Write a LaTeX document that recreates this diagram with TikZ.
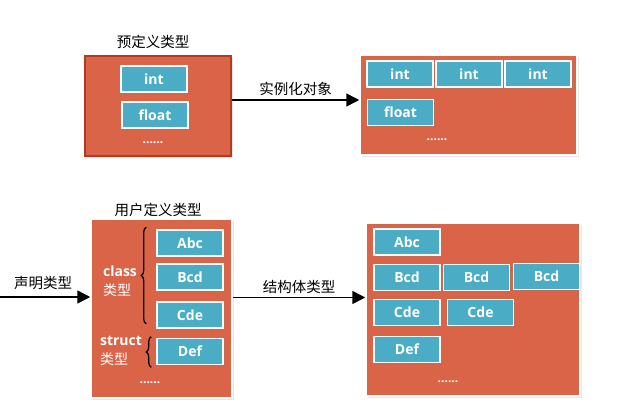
\documentclass[tikz,border=0pt]{standalone}
\usepackage{fontspec}
\setmainfont{Open Sans}
\newfontfamily\cjk{Noto Sans CJK SC}
\usepackage{tikz}
\usetikzlibrary{positioning, arrows.meta, decorations.pathreplacing, shadows}
\definecolor{TyRed}{RGB}{217,100,71}
\definecolor{TyDark}{RGB}{181,57,31}
\definecolor{TyBlue}{RGB}{75,172,198}

\begin{document}
\begin{tikzpicture}[x=1pt, y=-1pt,
          panel/.style={rectangle, fill=TyRed, draw=white, line width=1.5pt,
                        drop shadow={shadow xshift=1.5pt, shadow yshift=-1.5pt, opacity=0.2}},
          cell/.style={rectangle, fill=TyBlue, draw=white, line width=1.6pt,
                       minimum width=66pt, minimum height=26pt, inner sep=0pt,
                       text=white, font=\fontsize{14}{16}\selectfont\bfseries,
                       drop shadow={shadow xshift=1.5pt, shadow yshift=-1.5pt, opacity=0.2}},
          dots/.style={text=white, font=\fontsize{12}{14}\selectfont\bfseries},
          lbl/.style={font=\fontsize{14.5}{16}\selectfont\cjk},
          side/.style={text=white, align=left, inner sep=0pt,
                       font=\fontsize{14}{19}\selectfont\bfseries},
          arr/.style={-{Triangle[length=13pt, width=13pt]}, line width=1.5pt},
          brc/.style={decorate, decoration={brace, amplitude=5pt}, line width=1.2pt}
        ]
        \useasboundingbox (0,0) rectangle (620,404);

        % predefined types
        \node[lbl] (tPre) at (153,42) {预定义类型};
        \node[panel, draw=TyDark, minimum width=146pt, minimum height=100pt] (preA) at (158,106) {};
        \node[cell] (pInt) at (154,79) {int};
        \node[cell] (pFloat) at (155,115) {float};
        \node[dots] (pDots) at (153,143) {......};

        % instances
        \node[panel, minimum width=217pt, minimum height=100pt] (objA) at (468.5,105) {};
        \foreach \n/\x in {oInt1/400, oInt2/469, oInt3/538} {
          \node[cell] (\n) at (\x,74) {int};
        }
        \node[cell] (oFloat) at (400.5,112.5) {float};
        \node[dots] (oDots) at (437,140) {......};

        \draw[arr] ([yshift=6pt]preA.east) -- ([yshift=6pt]preA.east -| objA.west)
              node[lbl, midway, above=0pt] (tInst) {实例化对象};

        % user defined types
        \node[lbl] (tUdt) at (158,210) {用户定义类型};
        \node[panel, minimum width=141pt, minimum height=179pt] (udt) at (161.5,308.5) {};
        \foreach \n/\y/\t in {uAbc/243/Abc, uBcd/277/Bcd, uCde/315/Cde, uDef/351.5/Def} {
          \node[cell] (\n) at (190,\y) {\t};
        }
        \node[side] (cls) at (120,281) {class\\{\cjk\mdseries 类型}};
        \node[side] (str) at (121,351) {struct\\{\cjk\mdseries 类型}};
        \draw[brc] ([xshift=-10pt, yshift=5pt]uCde.south west) -- ([xshift=-10pt, yshift=2pt]uAbc.north west);
        \draw[brc] ([xshift=-5pt, yshift=-2pt]uDef.south west) -- ([xshift=-5pt, yshift=1pt]uDef.north west);
        \node[dots] (uDots) at (150,383) {......};

        \coordinate (src) at (0,297);
        \draw[arr] (src) -- (src -| udt.west);
        \node[lbl] (tDecl) at (43,283) {声明类型};

        % struct objects
        \node[panel, minimum width=214pt, minimum height=173pt] (objB) at (473,309.5) {};
        \node[cell] (sAbc) at (407,242) {Abc};
        \foreach \n/\x in {sBcd1/407, sBcd2/476.5} {
          \node[cell] (\n) at (\x,277.5) {Bcd};
        }
        \node[cell] (sBcd3) at (546.5,276.5) {Bcd};
        \foreach \n/\x in {sCde1/407, sCde2/480.5} {
          \node[cell] (\n) at (\x,312.5) {Cde};
        }
        \node[cell] (sDef) at (407,349.5) {Def};
        \node[dots] (sDots) at (448,382) {......};

        \draw[arr] ([yshift=11pt]udt.east) -- ([yshift=11pt]udt.east -| objB.west)
              node[lbl, midway, above=0pt] (tStruct) {结构体类型};
      \end{tikzpicture}
\end{document}
